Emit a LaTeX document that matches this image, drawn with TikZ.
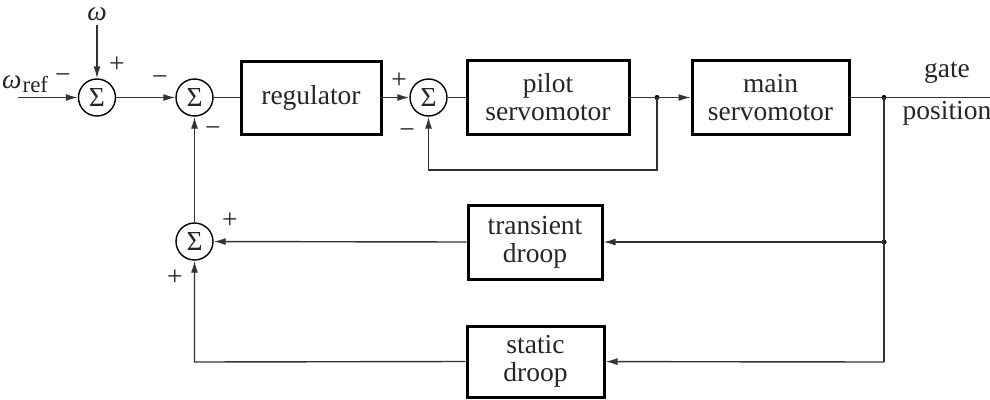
\documentclass[tikz,border=0pt]{standalone}
\usepackage{fontspec}
\setmainfont{Liberation Serif}
\usetikzlibrary{arrows.meta}
\begin{document}
\begin{tikzpicture}[x=1pt,y=-1pt,
  every node/.style={font=\fontsize{27.5}{28}\selectfont, text=black!85},
  sum/.style={draw, circle, line width=1.4pt, minimum size=37pt, inner sep=0pt},
  blk/.style={draw, line width=3pt, align=center, inner sep=0pt},
  sgn/.style={inner sep=0pt},
  wire/.style={line width=1.4pt, draw=black!80},
  arr/.style={wire, -{Latex[length=12pt,width=7pt]}},
  dot/.style={circle, fill=black, inner sep=0pt, minimum size=5pt}]
\useasboundingbox (0,0) rectangle (990,399);
% summing junctions
\node[sum] (s1) at (97,97.5) {Σ};
\node[sum] (s2) at (194.5,97.5) {Σ};
\node[sum] (s3) at (428.5,97.5) {Σ};
\node[sum] (s4) at (194.5,241.5) {Σ};
% blocks
\node[blk, minimum width=140pt, minimum height=73pt] (reg) at (311,97.5) {regulator};
\node[blk, minimum width=162pt, minimum height=74pt] (pilot) at (548,97.5) {pilot\\servomotor};
\node[blk, minimum width=157pt, minimum height=74pt] (main) at (770.5,97.5) {main\\servomotor};
\node[blk, minimum width=134pt, minimum height=74pt] (trans) at (535,242) {transient\\droop};
\node[blk, minimum width=137pt, minimum height=71pt] (stat) at (535.5,361.5) {static\\droop};
% inputs / outputs
\node[inner sep=0pt] (om) at (97,14) {\itshape ω};
\node[inner sep=0pt, anchor=west] (omref) at (2,84) {\itshape ω\kern1pt\raisebox{-4pt}{\upshape\fontsize{23}{23}\selectfont ref}};
\coordinate (in) at (18,97.5);
\node (gate) at (947,73) {gate};
\node (pos) at (947,113) {position};
\coordinate (out) at (990,97.5);
% junction points
\node[dot] (j1) at (657,97.5) {};
\node[dot] (j2) at (884,97.5) {};
\node[dot] (j3) at (884,242) {};
\coordinate (c1) at (657,170);
\coordinate (c2) at (428.5,170);
\coordinate (c3) at (884,362);
\coordinate (c4) at (194.5,362);
\coordinate (c5) at (97,25);
% connectors
\draw[arr] (in) -- (s1);
\draw[arr] (c5) -- (s1);
\draw[arr] (s1) -- (s2);
\draw[wire] (s2) -- (reg);
\draw[arr] (reg) -- (s3);
\draw[wire] (s3) -- (pilot);
\draw[wire] (pilot.east) -- (j1.center);
\draw[arr] (j1.center) -- (main);
\draw[arr] (j1.center) -- (c1) -- (c2) -- (s3);
\draw[wire] (main.east) -- (out);
\draw[wire] (j2.center) -- (c3);
\draw[arr] (j3.center) -- (trans);
\draw[arr] (trans.west) -- (s4);
\draw[arr] (c3) -- (stat);
\draw[arr] (stat.west) -- (c4) -- (s4);
\draw[arr] (s4) -- (s2);
% signs
\node[sgn] at (117,65) {+};
\node[sgn] at (63,79) {−};
\node[sgn] at (160,81) {−};
\node[sgn] at (213,132) {−};
\node[sgn] at (399,81) {+};
\node[sgn] at (407,134) {−};
\node[sgn] at (230,221) {+};
\node[sgn] at (175,278) {+};
\end{tikzpicture}
\end{document}
